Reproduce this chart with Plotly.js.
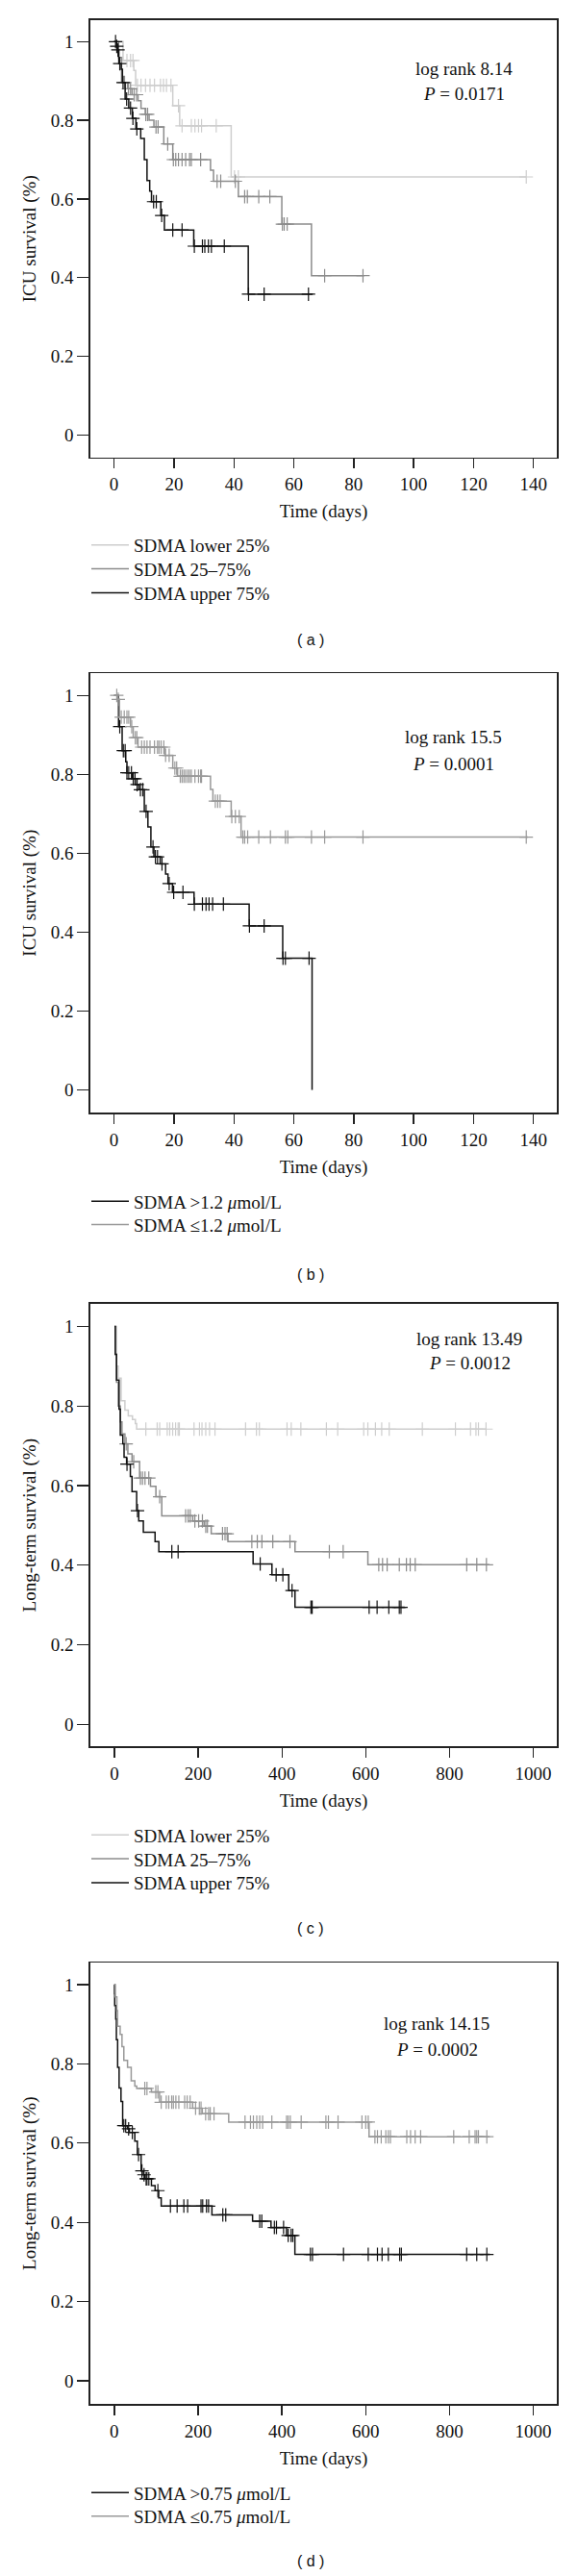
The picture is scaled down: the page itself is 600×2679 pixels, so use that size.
<!DOCTYPE html>
<html><head><meta charset="utf-8">
<script src="https://cdn.plot.ly/plotly-3.0.1.min.js"></script>
<style>html,body{margin:0;padding:0;background:#fff}#chart{width:600px;height:2679px}</style>
</head><body><div id="chart"></div>
<script>
// ---------- DATA ----------
// Panel (a): ICU survival by SDMA quartile groups  (t = step times in days, s = survival after step, c = censor times)
const a_low_t = [0, 3, 6.6, 7.2, 19.6, 21.9, 39.1, 137.6];
const a_low_s = [1, 0.952, 0.927, 0.889, 0.837, 0.786, 0.656, 0.656];
const a_low_c = [4.3, 5.5, 6.3, 7.8, 9, 10.5, 12, 13.5, 15.5, 16.5, 17.5, 19, 21.5, 22.7, 25.8, 27, 28.2, 29.2, 34.1, 40.2, 41.5, 137.6];
const a_mid_t = [0, 1.5, 2.5, 4.5, 6, 8, 9, 10.4, 11.7, 13.3, 16.6, 19.6, 32.2, 33.2, 41.5, 56, 65.9, 83.5];
const a_mid_s = [1, 0.96, 0.896, 0.88, 0.865, 0.85, 0.83, 0.815, 0.80, 0.783, 0.74, 0.70, 0.673, 0.645, 0.606, 0.536, 0.405, 0.405];
const a_mid_c = [3.5, 4.8, 5.5, 6.7, 7.5, 10.6, 11.2, 14, 14.7, 17.9, 19.8, 20.6, 21.5, 22.7, 23.9, 25.2, 25.8, 28.9, 34.4, 35.6, 40.5, 43.6, 44.5, 48.3, 52, 56.2, 56.8, 57.8, 70.3, 83.1];
const a_up_t = [0, 0.8, 1.2, 1.6, 2.4, 2.8, 3.7, 4.9, 6.1, 7.3, 8.9, 10.1, 11, 11.9, 12.5, 15.6, 16.8, 26.6, 44.8, 66.3];
const a_up_s = [1, 0.988, 0.979, 0.944, 0.93, 0.896, 0.854, 0.831, 0.805, 0.778, 0.754, 0.70, 0.647, 0.62, 0.593, 0.558, 0.521, 0.48, 0.358, 0.358];
const a_up_c = [0.5, 0.9, 1.3, 1.9, 3, 4.2, 5.5, 6.3, 7.6, 13.2, 14.1, 15.9, 19.6, 22.7, 26.8, 29.5, 30.3, 31.5, 32.5, 36.8, 44.9, 50.1, 64.9];

// Panel (b): ICU survival by SDMA cut-off 1.2 µmol/L
const b_hi_t = [0, 1.5, 2.7, 3.9, 4.3, 6.1, 7.1, 8.3, 10.1, 11.3, 12.3, 13.3, 15.4, 17.2, 18, 19.5, 26.7, 45.1, 56.3, 66.1];
const b_hi_s = [1, 0.921, 0.86, 0.832, 0.804, 0.789, 0.774, 0.761, 0.706, 0.667, 0.616, 0.591, 0.573, 0.547, 0.523, 0.501, 0.471, 0.416, 0.334, 0];
const b_hi_c = [1.9, 3.1, 3.7, 4.3, 4.9, 5.8, 6.4, 7, 7.7, 8.8, 9.6, 10.7, 13, 13.8, 14.5, 16, 18.4, 19.9, 23, 26.8, 29.5, 30.7, 31.7, 32.9, 36.5, 45.2, 50.1, 56.4, 57.2, 65.1];
const b_lo_t = [0, 1, 1.8, 5.5, 6.4, 8, 16.9, 19.6, 21.2, 32.2, 33, 39.1, 42.4, 138.2];
const b_lo_s = [1, 0.99, 0.945, 0.921, 0.893, 0.869, 0.848, 0.816, 0.795, 0.762, 0.732, 0.693, 0.641, 0.641];
const b_lo_c = [0.9, 1.4, 2.4, 3.4, 4.3, 4.9, 5.9, 7.1, 7.6, 9.2, 10.1, 11, 12, 13.5, 14.5, 15, 15.7, 16.6, 17.2, 18.4, 20.3, 20.9, 22.1, 22.7, 23.3, 23.9, 24.6, 25.2, 25.8, 27, 28.2, 28.9, 29.2, 33.8, 34.6, 35.4, 39.3, 40.5, 41.8, 43, 43.6, 44.6, 48.3, 52.2, 57.2, 58, 65.9, 70.3, 83.1, 137.6];

// Panel (c): long-term survival by SDMA quartile groups
const c_low_t = [0, 5, 9, 16, 25, 33, 43, 50, 53, 888];
const c_low_s = [1, 0.9, 0.87, 0.813, 0.79, 0.775, 0.766, 0.756, 0.742, 0.742];
const c_low_c = [75, 102, 108, 126, 132, 139, 146, 152, 155, 190, 203, 209, 218, 227, 240, 313, 339, 346, 412, 422, 445, 506, 533, 595, 605, 623, 638, 656, 735, 814, 850, 863, 869, 887];
const c_mid_t = [0, 2, 5, 9, 14, 18, 25, 32, 42, 60, 86, 99, 113, 187, 214, 231, 271, 431, 605, 895];
const c_mid_s = [1, 0.93, 0.86, 0.8, 0.76, 0.73, 0.705, 0.68, 0.66, 0.619, 0.598, 0.572, 0.524, 0.511, 0.498, 0.479, 0.459, 0.434, 0.401, 0.401];
const c_mid_c = [28, 46, 62, 67, 73, 82, 108, 170, 176, 181, 192, 201, 210, 218, 222, 258, 264, 269, 328, 341, 352, 378, 419, 513, 546, 631, 640, 651, 680, 697, 706, 718, 841, 865, 888];
const c_up_t = [0, 2, 5, 11, 14, 20, 23, 29, 38, 42, 53, 58, 69, 97, 106, 331, 376, 416, 431, 693];
const c_up_s = [1, 0.93, 0.865, 0.792, 0.727, 0.705, 0.671, 0.654, 0.623, 0.585, 0.537, 0.511, 0.483, 0.459, 0.434, 0.403, 0.376, 0.336, 0.294, 0.294];
const c_up_c = [30, 55, 137, 152, 348, 386, 402, 424, 469, 472, 608, 627, 655, 680, 684];

// Panel (d): long-term survival by SDMA cut-off 0.75 µmol/L
const d_hi_t = [0, 0.5, 1, 3.5, 5, 8, 11.5, 16, 20, 31.6, 36, 49, 55, 64, 69.5, 73, 88.6, 97.4, 106, 112, 233, 330, 374, 411, 431, 896];
const d_hi_s = [1, 0.977, 0.947, 0.913, 0.861, 0.791, 0.739, 0.705, 0.644, 0.636, 0.627, 0.605, 0.571, 0.53, 0.52, 0.51, 0.493, 0.48, 0.462, 0.441, 0.419, 0.403, 0.387, 0.367, 0.319, 0.319];
const d_hi_c = [22.8, 27.2, 34.2, 43, 57.9, 66, 71, 76, 78, 82.5, 104, 134, 150, 166, 175, 207, 211, 220, 225, 259, 266, 347, 352, 382, 387, 404, 415, 422, 426, 468, 473, 547, 606, 628, 639, 654, 681, 685, 841, 865, 889];
const d_lo_t = [0, 2.6, 6.1, 7.9, 14, 18.4, 22.8, 31.6, 40.4, 49, 53.5, 88.6, 108, 187, 210, 273, 608, 896];
const d_lo_s = [1, 0.969, 0.934, 0.895, 0.874, 0.843, 0.809, 0.791, 0.757, 0.744, 0.738, 0.729, 0.703, 0.688, 0.674, 0.653, 0.616, 0.616];
const d_lo_c = [72.8, 78, 99, 104, 112, 124, 130, 137, 141, 147, 154, 168, 174, 181, 194, 203, 207, 218, 225, 229, 238, 312, 325, 332, 340, 347, 354, 376, 411, 415, 420, 446, 505, 511, 534, 591, 600, 606, 622, 628, 637, 648, 654, 659, 698, 707, 718, 731, 810, 847, 861, 865, 869, 889];

// Labels
const legA = ["SDMA lower 25%", "SDMA 25–75%", "SDMA upper 75%"];
const legB = ["SDMA >1.2 <i>μ</i>mol/L", "SDMA ≤1.2 <i>μ</i>mol/L"];
const legC = ["SDMA lower 25%", "SDMA 25–75%", "SDMA upper 75%"];
const legD = ["SDMA >0.75 <i>μ</i>mol/L", "SDMA ≤0.75 <i>μ</i>mol/L"];
const statA = ["log rank 8.14", "<i>P</i> = 0.0171"];
const statB = ["log rank 15.5", "<i>P</i> = 0.0001"];
const statC = ["log rank 13.49", "<i>P</i> = 0.0012"];
const statD = ["log rank 14.15", "<i>P</i> = 0.0002"];
const xTitle = "Time (days)";
const yTitles = ["ICU survival (%)", "ICU survival (%)", "Long-term survival (%)", "Long-term survival (%)"];
const subLabels = ["( a )", "( b )", "( c )", "( d )"];
const xTicksICU = [0, 20, 40, 60, 80, 100, 120, 140];
const xTicksLT = [0, 200, 400, 600, 800, 1000];
const yTicks = [0, 0.2, 0.4, 0.6, 0.8, 1];
const yTickText = ["0", "0.2", "0.4", "0.6", "0.8", "1"];

// ---------- LAYOUT ----------
const W = 600, H = 2679;
const SERIF = "Liberation Serif, Times New Roman, serif";
const FS = 19;
const px = v => v / W;
const py = v => 1 - v / H;
const LIGHT = "#cecece", MID = "#8c8c8c", DARK = "#111111", MID2 = "#999999";
const font = {family: SERIF, size: FS, color: "#111"};

// panel frames in pixels: [top, bottom]
const frames = [[21, 475.5], [700.4, 1157], [1356, 1816.4], [2041.4, 2500]];
const xRanges = [[-7.9, 147.8], [-7.9, 147.8], [-57.4, 1056], [-57, 1056]];
const yRanges = [[-0.0567, 1.0545], [-0.057, 1.0556], [-0.056, 1.0568], [-0.058, 1.0546]];
const xTickSets = [xTicksICU, xTicksICU, xTicksLT, xTicksLT];
const stats = [statA, statB, statC, statD];
const statPos = [[482, 71.5, 97.5], [471, 766.5, 794], [488, 1393, 1417.5], [454, 2104, 2131]];
const subY = [665, 1325, 2005, 2663];
const Y_TITLE_X = 30.6, X_TITLE_OFF = 56.7;

function stepAt(t, s, c) {
  let v = s[0];
  for (let i = 0; i < t.length; i++) { if (t[i] <= c) v = s[i]; else break; }
  return v;
}
const traces = [];
const legendRows = [];
function addKM(t, s, c, color, name, panel, rowY) {
  const k = panel === 0 ? "" : String(panel + 1);
  const lid = legendRows.length === 0 ? "legend" : "legend" + (legendRows.length + 1);
  legendRows.push([lid, rowY]);
  traces.push({type: "scatter", mode: "lines", x: t, y: s, line: {shape: "hv", color: color, width: 1.5},
    name: name, xaxis: "x" + k, yaxis: "y" + k, legend: lid, showlegend: true, hoverinfo: "skip"});
  traces.push({type: "scatter", mode: "markers", x: c, y: c.map(v => stepAt(t, s, v)),
    marker: {symbol: "cross-thin", size: 10, color: color, line: {color: color, width: 1.2}},
    xaxis: "x" + k, yaxis: "y" + k, showlegend: false, hoverinfo: "skip"});
}
addKM(a_low_t, a_low_s, a_low_c, LIGHT, legA[0], 0, 566.8);
addKM(a_mid_t, a_mid_s, a_mid_c, MID, legA[1], 0, 591.6);
addKM(a_up_t, a_up_s, a_up_c, DARK, legA[2], 0, 616.4);
addKM(b_hi_t, b_hi_s, b_hi_c, DARK, legB[0], 1, 1249.3);
addKM(b_lo_t, b_lo_s, b_lo_c, MID2, legB[1], 1, 1273.5);
addKM(c_low_t, c_low_s, c_low_c, LIGHT, legC[0], 2, 1908.3);
addKM(c_mid_t, c_mid_s, c_mid_c, MID, legC[1], 2, 1933.1);
addKM(c_up_t, c_up_s, c_up_c, DARK, legC[2], 2, 1957.9);
addKM(d_hi_t, d_hi_s, d_hi_c, DARK, legD[0], 3, 2592.3);
addKM(d_lo_t, d_lo_s, d_lo_c, MID2, legD[1], 3, 2616.7);

const layout = {width: W, height: H, margin: {l: 0, r: 0, t: 0, b: 0},
  paper_bgcolor: "#fff", plot_bgcolor: "#fff", font: font, showlegend: true, annotations: []};

for (let i = 0; i < 4; i++) {
  const k = i === 0 ? "" : String(i + 1);
  const [top, bot] = frames[i];
  layout["xaxis" + k] = {domain: [px(94), px(579)], anchor: "y" + k, range: xRanges[i],
    tickvals: xTickSets[i], ticks: "outside", ticklen: 10, tickwidth: 1.4, tickcolor: "#222",
    showline: true, mirror: true, linewidth: 1.8, linecolor: "#222", showgrid: false, zeroline: false,
    tickfont: font, title: {text: xTitle, font: font, standoff: 12}, fixedrange: true};
  layout["yaxis" + k] = {domain: [py(bot), py(top)], anchor: "x" + k, range: yRanges[i],
    tickvals: yTicks, ticktext: yTickText, ticks: "outside", ticklen: 12, tickwidth: 1.4, tickcolor: "#222",
    showline: true, mirror: true, linewidth: 1.8, linecolor: "#222", showgrid: false, zeroline: false,
    tickfont: font, title: {text: yTitles[i], font: font, standoff: 10.5}, fixedrange: true};
  const [sx, sy1, sy2] = statPos[i];
  layout.annotations.push({xref: "paper", yref: "paper", x: px(sx), y: py(sy1), text: stats[i][0],
    showarrow: false, xanchor: "center", yanchor: "middle", font: font});
  layout.annotations.push({xref: "paper", yref: "paper", x: px(sx), y: py(sy2), text: stats[i][1],
    showarrow: false, xanchor: "center", yanchor: "middle", font: font});
  layout.annotations.push({xref: "paper", yref: "paper", x: px(323), y: py(subY[i]), text: subLabels[i],
    showarrow: false, xanchor: "center", yanchor: "middle",
    font: {family: "Liberation Sans, Arial, sans-serif", size: 16, color: "#111"}});
}
// one legend per row so that row spacing follows the figure
legendRows.forEach(([lid, rowY]) => {
  layout[lid] = {x: px(90), xanchor: "left", y: py(rowY - 18.85), yanchor: "top",
    bgcolor: "rgba(0,0,0,0)", borderwidth: 0, font: font, itemwidth: 39,
    itemclick: false, itemdoubleclick: false};
});

Plotly.newPlot("chart", traces, layout, {staticPlot: true, displayModeBar: false}).then(gd => {
  // fine-tune axis title offsets to the measured positions of the figure
  const upd = {};
  for (let i = 0; i < 4; i++) {
    const k = i === 0 ? "" : String(i + 1);
    const yt = document.querySelector("text.y" + k + "title");
    if (yt) {
      const r = yt.getBoundingClientRect();
      const d = Y_TITLE_X - (r.left + r.right) / 2;
      upd["yaxis" + k + ".title.standoff"] = Math.max(0, layout["yaxis" + k].title.standoff - d);
    }
    const xt = document.querySelector("text.x" + k + "title");
    if (xt) {
      const r = xt.getBoundingClientRect();
      const d = (frames[i][1] + X_TITLE_OFF) - (r.top + r.bottom) / 2;
      upd["xaxis" + k + ".title.standoff"] = Math.max(0, layout["xaxis" + k].title.standoff + d);
    }
  }
  return Plotly.relayout(gd, upd);
});
</script></body></html>
